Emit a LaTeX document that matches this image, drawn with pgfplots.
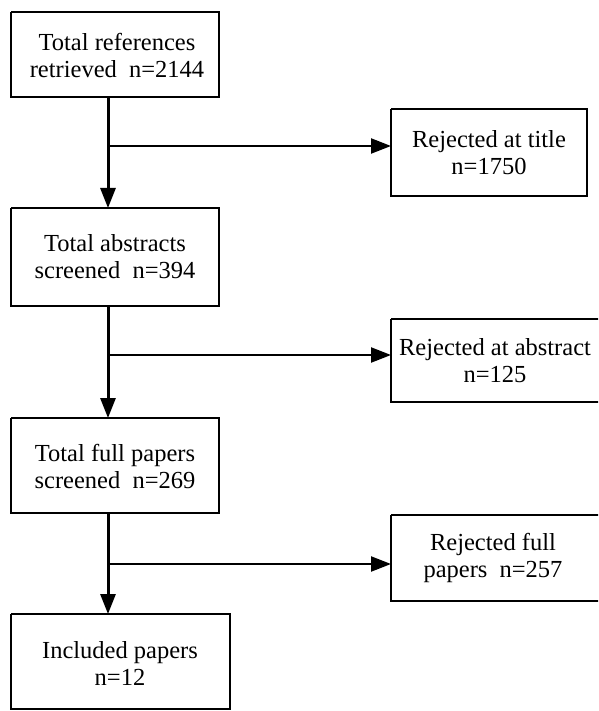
\documentclass[border=0pt]{standalone}
\usepackage{pgfplots}
\pgfplotsset{compat=1.18}
\usepackage{fontspec}
\setmainfont{Liberation Serif}
\usetikzlibrary{arrows.meta}
\begin{document}
\begin{tikzpicture}
\begin{axis}[
  width=598pt, height=711pt, scale only axis,
  xmin=0, xmax=598, ymin=0, ymax=711, y dir=reverse,
  hide axis, clip=true,
]
% invisible frame for extent
\addplot[draw=none] coordinates {(0,0) (598,711)};
% boxes (left column)
\addplot[line width=2pt, black] coordinates {(11,12) (219,12) (219,97) (11,97) (11,12)};
\addplot[line width=2pt, black] coordinates {(11,208) (219,208) (219,306) (11,306) (11,208)};
\addplot[line width=2pt, black] coordinates {(11,418) (219,418) (219,513) (11,513) (11,418)};
\addplot[line width=2pt, black] coordinates {(11,614) (230,614) (230,709) (11,709) (11,614)};
% boxes (right column)
\addplot[line width=2pt, black] coordinates {(391,109) (587,109) (587,196) (391,196) (391,109)};
\addplot[line width=2pt, black] coordinates {(391,319) (620,319) (620,402) (391,402) (391,319)};
\addplot[line width=2pt, black] coordinates {(391,515) (620,515) (620,601) (391,601) (391,515)};
% vertical arrows
\addplot[line width=3pt, black, -{Triangle[length=20pt,width=15pt]}] coordinates {(108,97) (108,208)};
\addplot[line width=3pt, black, -{Triangle[length=20pt,width=15pt]}] coordinates {(108,306) (108,418)};
\addplot[line width=3pt, black, -{Triangle[length=20pt,width=15pt]}] coordinates {(108,513) (108,614)};
% branch arrows
\addplot[line width=2.2pt, black, -{Triangle[length=20pt,width=15pt]}] coordinates {(108,146) (391,146)};
\addplot[line width=2.2pt, black, -{Triangle[length=20pt,width=15pt]}] coordinates {(108,355) (391,355)};
\addplot[line width=2.2pt, black, -{Triangle[length=20pt,width=15pt]}] coordinates {(108,564) (391,564)};
% texts
\tikzset{every node/.style={align=center, font=\fontsize{24.5}{27}\selectfont, inner sep=0pt}}
\node at (axis cs:117,55) {Total references\\retrieved\ \ n=2144};
\node at (axis cs:115,257) {Total abstracts\\screened\ \ n=394};
\node at (axis cs:115,466) {Total full papers\\screened\ \ n=269};
\node at (axis cs:120,663) {Included papers\\n=12};
\node at (axis cs:489,153) {Rejected at title\\n=1750};
\node at (axis cs:495,361) {Rejected at abstract\\n=125};
\node at (axis cs:493,558) {Rejected full\\papers\ \ n=257};
\end{axis}
\end{tikzpicture}
\end{document}
